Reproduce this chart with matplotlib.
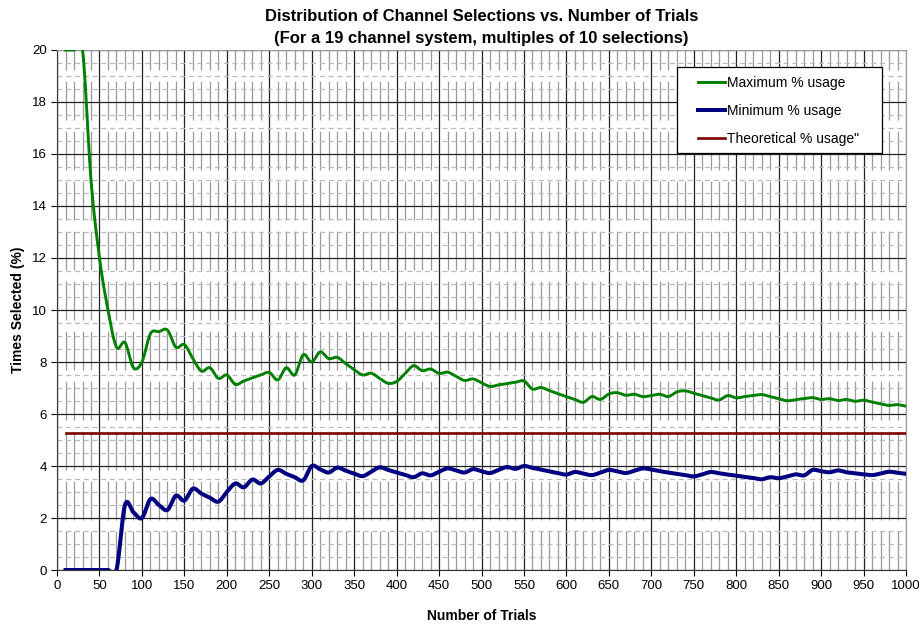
import numpy as np
import matplotlib
matplotlib.use("Agg")
import matplotlib.pyplot as plt
from matplotlib.patches import Rectangle

plt.rcParams['font.family'] = ['Liberation Sans', 'DejaVu Sans']

# number of trials (multiples of 10 selections)
trials = list(range(10, 1001, 10))

# maximum % usage over the 19 channels
max_usage = [
    20.0, 20.0, 20.0, 15.0, 12.0, 10.0, 8.57, 8.75, 7.78, 8.0,
    9.09, 9.17, 9.23, 8.57, 8.67, 8.13, 7.65, 7.78, 7.37, 7.5,
    7.14, 7.27, 7.39, 7.5, 7.6, 7.31, 7.78, 7.5, 8.28, 8.0,
    8.39, 8.13, 8.18, 7.94, 7.71, 7.5, 7.57, 7.37, 7.18, 7.25,
    7.56, 7.86, 7.67, 7.73, 7.56, 7.61, 7.45, 7.29, 7.35, 7.2,
    7.06, 7.12, 7.17, 7.22, 7.27, 6.96, 7.02, 6.9, 6.78, 6.67,
    6.56, 6.45, 6.67, 6.56, 6.77, 6.82, 6.72, 6.76, 6.67, 6.71,
    6.76, 6.67, 6.85, 6.89, 6.8, 6.71, 6.62, 6.54, 6.71, 6.62,
    6.67, 6.71, 6.75, 6.67, 6.59, 6.51, 6.55, 6.59, 6.63, 6.56,
    6.59, 6.52, 6.56, 6.49, 6.53, 6.46, 6.39, 6.33, 6.36, 6.3,
]

# minimum % usage over the 19 channels
min_usage = [
    0.0, 0.0, 0.0, 0.0, 0.0, 0.0, 0.0, 2.5, 2.22, 2.0,
    2.73, 2.5, 2.31, 2.86, 2.67, 3.13, 2.94, 2.78, 2.63, 3.0,
    3.33, 3.18, 3.48, 3.33, 3.6, 3.85, 3.7, 3.57, 3.45, 4.0,
    3.87, 3.75, 3.94, 3.82, 3.71, 3.61, 3.78, 3.95, 3.85, 3.75,
    3.66, 3.57, 3.72, 3.64, 3.78, 3.91, 3.83, 3.75, 3.88, 3.8,
    3.73, 3.85, 3.96, 3.89, 4.0, 3.93, 3.86, 3.79, 3.73, 3.67,
    3.77, 3.71, 3.65, 3.75, 3.85, 3.79, 3.73, 3.82, 3.91, 3.86,
    3.8, 3.75, 3.7, 3.65, 3.6, 3.68, 3.77, 3.72, 3.67, 3.63,
    3.58, 3.54, 3.49, 3.57, 3.53, 3.6, 3.68, 3.64, 3.85, 3.8,
    3.76, 3.83, 3.76, 3.72, 3.68, 3.65, 3.71, 3.78, 3.74, 3.7,
]

# theoretical usage = 100 / 19 channels
theoretical = [100 / 19] * len(trials)


def smooth(x, y, steps=12):
    # Catmull-Rom curve through the points, like Excel's "smoothed line"
    x = np.asarray(x, float)
    y = np.asarray(y, float)
    px = np.concatenate([[2 * x[0] - x[1]], x, [2 * x[-1] - x[-2]]])
    py = np.concatenate([[2 * y[0] - y[1]], y, [2 * y[-1] - y[-2]]])
    t = np.linspace(0, 1, steps, endpoint=False)
    xs, ys = [], []
    for i in range(1, len(px) - 2):
        for p, out in ((px, xs), (py, ys)):
            p0, p1, p2, p3 = p[i - 1], p[i], p[i + 1], p[i + 2]
            out.append(0.5 * (2 * p1 + (p2 - p0) * t
                              + (2 * p0 - 5 * p1 + 4 * p2 - p3) * t ** 2
                              + (3 * p1 - p0 - 3 * p2 + p3) * t ** 3))
    xs.append([x[-1]])
    ys.append([y[-1]])
    return np.concatenate(xs), np.concatenate(ys)


fig = plt.figure(figsize=(9.23, 6.24), dpi=100)
ax = fig.add_axes([0.0618, 0.0865, 0.9198, 0.8334])

ax.plot(*smooth(trials, max_usage), color='#008000', lw=2.1, label='Maximum % usage', zorder=5)
ax.plot(*smooth(trials, min_usage), color='#000080', lw=2.9, label='Minimum % usage', zorder=5)
ax.plot(trials, theoretical, color='#800000', lw=1.9, label='Theoretical % usage"', zorder=5)

ax.set_xlim(0, 1000)
ax.set_ylim(0, 20)
ax.set_xticks(range(0, 1001, 50))
ax.set_yticks(range(0, 21, 2))
ax.set_xticks(range(0, 1001, 10), minor=True)
ax.set_yticks(np.arange(0, 20.01, 0.5), minor=True)

ax.grid(which='major', color='#222222', lw=0.9, zorder=1)
ax.grid(which='minor', axis='x', color='#999999', lw=0.9, ls=(0, (31, 9)), zorder=0)
ax.grid(which='minor', axis='y', color='#bbbbbb', lw=0.9, ls=(0, (4, 3)), zorder=0)
ax.tick_params(which='minor', length=0)
ax.tick_params(which='major', direction='out', length=4, labelsize=9.5, colors='black')

for side in ['top', 'right']:
    ax.spines[side].set_color('#999999')
for side in ['left', 'bottom']:
    ax.spines[side].set_color('#333333')

ax.set_title("Distribution of Channel Selections vs. Number of Trials\n"
             "(For a 19 channel system, multiples of 10 selections)",
             fontsize=12, fontweight='bold', pad=5, linespacing=1.6)
ax.set_xlabel("Number of Trials", fontsize=10, fontweight='bold', labelpad=12)
ax.set_ylabel("Times Selected (%)", fontsize=10, fontweight='bold', labelpad=5)

# legend frame drawn separately so the side padding can be wider than the top
frame = Rectangle((0.730, 0.802), 0.242, 0.165, transform=ax.transAxes,
                  facecolor='white', edgecolor='black', lw=0.9, zorder=9)
ax.add_patch(frame)
leg = ax.legend(loc='upper left', bbox_to_anchor=(0.755, 0.950), borderaxespad=0,
                borderpad=0, fontsize=10, handlelength=1.95, handletextpad=0.15,
                labelspacing=1.0, frameon=False)
leg.set_zorder(10)

fig.savefig('out.png', dpi=100)
